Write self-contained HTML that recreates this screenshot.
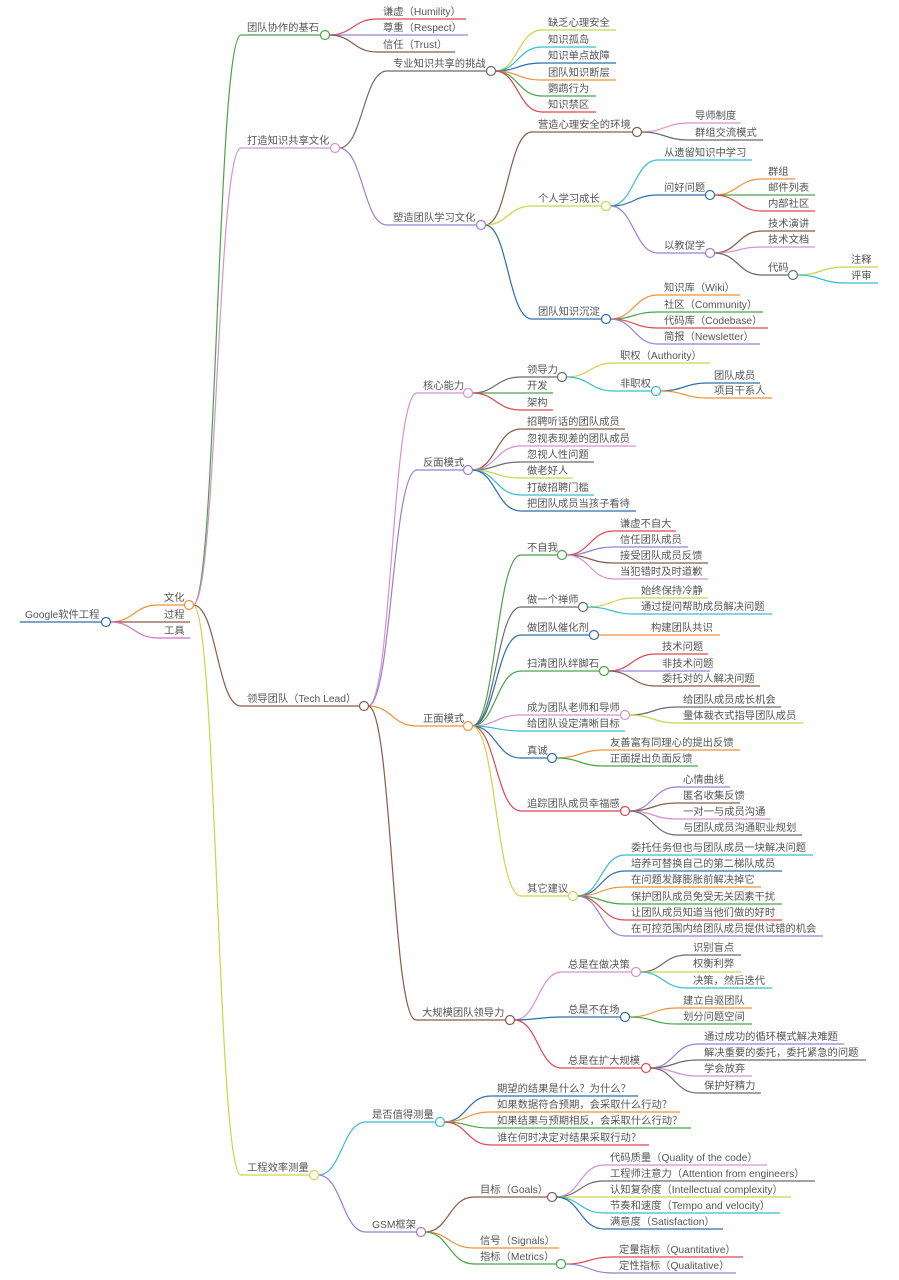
<!DOCTYPE html>
<html><head><meta charset="utf-8"><style>
html,body{margin:0;padding:0;background:#fff}
svg{display:block}
text{font-family:"Liberation Sans","Noto Sans CJK SC",sans-serif;font-size:10.3px;fill:#555}
path{fill:none;stroke-width:1.2}
circle{fill:#fff;stroke-width:1.2}
</style></head><body>
<svg width="899" height="1280" viewBox="0 0 899 1280" xmlns="http://www.w3.org/2000/svg">
<g>
<path d="M20 622H102" stroke="#2f6fa8" stroke-width="3"/>
<text x="25" y="618">Google软件工程</text>
<path d="M110 622C134 622 134 605 158 605H185" stroke="#f0923a"/><text x="164" y="601">文化</text>
<path d="M110 622H190" stroke="#8a5a4a"/><text x="164" y="618">过程</text>
<path d="M110 622C134 622 134 638 158 638H190" stroke="#d070c8"/><text x="164" y="634">工具</text>

<path d="M193 605C217 605 217 35 241 35H321" stroke="#4aa34a"/><text x="247" y="31">团队协作的基石</text>
<path d="M193 605C217 605 217 148 241 148H331" stroke="#d98fd0"/><text x="247" y="144">打造知识共享文化</text>
<path d="M193 605C217 605 217 706 241 706H360" stroke="#8a5a4a"/><text x="247" y="702">领导团队（Tech Lead）</text>
<path d="M193 605C217 605 217 1175 241 1175H310" stroke="#cfd24a"/><text x="247" y="1171">工程效率测量</text>

<path d="M329 35C353 35 353 19 377 19H466" stroke="#e0464e"/><text x="383" y="15">谦虚（Humility）</text>
<path d="M329 35H468" stroke="#9a7fd1"/><text x="383" y="31">尊重（Respect）</text>
<path d="M329 35C353 35 353 52 377 52H455" stroke="#8a5a4a"/><text x="383" y="48">信任（Trust）</text>

<path d="M339 148C363 148 363 71 387 71H487" stroke="#6b6b6b"/><text x="393" y="67">专业知识共享的挑战</text>
<path d="M339 148C363 148 363 225 387 225H477" stroke="#9a7fd1"/><text x="393" y="221">塑造团队学习文化</text>

<path d="M495 71C518 71 518 30 542 30H616" stroke="#cfd24a"/><text x="548" y="26">缺乏心理安全</text>
<path d="M495 71C518 71 518 47 542 47H596" stroke="#3bbcd0"/><text x="548" y="43">知识孤岛</text>
<path d="M495 71C518 71 518 63 542 63H616" stroke="#2f6fa8"/><text x="548" y="59">知识单点故障</text>
<path d="M495 71C518 71 518 80 542 80H616" stroke="#f0923a"/><text x="548" y="76">团队知识断层</text>
<path d="M495 71C518 71 518 96 542 96H596" stroke="#4aa34a"/><text x="548" y="92">鹦鹉行为</text>
<path d="M495 71C518 71 518 112 542 112H596" stroke="#e0464e"/><text x="548" y="108">知识禁区</text>

<path d="M485 225C508 225 508 132 532 132H633" stroke="#8a5a4a"/><text x="538" y="128">营造心理安全的环境</text>
<path d="M485 225C508 225 508 206 532 206H602" stroke="#cfd24a"/><text x="538" y="202">个人学习成长</text>
<path d="M485 225C508 225 508 319 532 319H602" stroke="#2f6fa8"/><text x="538" y="315">团队知识沉淀</text>

<path d="M641 132C665 132 665 123 689 123H741" stroke="#d98fd0"/><text x="695" y="119">导师制度</text>
<path d="M641 132C665 132 665 140 689 140H763" stroke="#6b6b6b"/><text x="695" y="136">群组交流模式</text>

<path d="M610 206C634 206 634 160 658 160H752" stroke="#3bbcd0"/><text x="664" y="156">从遗留知识中学习</text>
<path d="M610 206C634 206 634 195 658 195H706" stroke="#2f6fa8"/><text x="664" y="191">问好问题</text>
<path d="M610 206C634 206 634 253 658 253H706" stroke="#9a7fd1"/><text x="664" y="249">以教促学</text>

<path d="M714 195C738 195 738 179 762 179H795" stroke="#f0923a"/><text x="768" y="175">群组</text>
<path d="M714 195H815" stroke="#4aa34a"/><text x="768" y="191">邮件列表</text>
<path d="M714 195C738 195 738 211 762 211H815" stroke="#e0464e"/><text x="768" y="207">内部社区</text>

<path d="M714 253C738 253 738 231 762 231H815" stroke="#8a5a4a"/><text x="768" y="227">技术演讲</text>
<path d="M714 253C738 253 738 247 762 247H815" stroke="#d98fd0"/><text x="768" y="243">技术文档</text>
<path d="M714 253C738 253 738 275 762 275H789" stroke="#6b6b6b"/><text x="768" y="271">代码</text>

<path d="M797 275C821 275 821 267 845 267H878" stroke="#cfd24a"/><text x="851" y="263">注释</text>
<path d="M797 275C821 275 821 283 845 283H878" stroke="#3bbcd0"/><text x="851" y="279">评审</text>

<path d="M610 319C634 319 634 295 658 295H740" stroke="#f0923a"/><text x="664" y="291">知识库（Wiki）</text>
<path d="M610 319C634 319 634 312 658 312H763" stroke="#4aa34a"/><text x="664" y="308">社区（Community）</text>
<path d="M610 319C634 319 634 328 658 328H768" stroke="#e0464e"/><text x="664" y="324">代码库（Codebase）</text>
<path d="M610 319C634 319 634 344 658 344H760" stroke="#9a7fd1"/><text x="664" y="340">简报（Newsletter）</text>

<path d="M368 706C392 706 392 393 417 393H464" stroke="#d98fd0"/><text x="423" y="389">核心能力</text>
<path d="M368 706C392 706 392 470 417 470H464" stroke="#9a7fd1"/><text x="423" y="466">反面模式</text>
<path d="M368 706C392 706 392 726 417 726H464" stroke="#f0923a"/><text x="423" y="722">正面模式</text>
<path d="M368 706C392 706 392 1020 416 1020H506" stroke="#8a5a4a"/><text x="422" y="1016">大规模团队领导力</text>

<path d="M472 393C496 393 496 377 521 377H558" stroke="#6b6b6b"/><text x="527" y="373">领导力</text>
<path d="M472 393H553" stroke="#4aa34a"/><text x="527" y="389">开发</text>
<path d="M472 393C496 393 496 410 521 410H553" stroke="#e0464e"/><text x="527" y="406">架构</text>

<path d="M566 377C590 377 590 363 614 363H710" stroke="#cfd24a"/><text x="620" y="359">职权（Authority）</text>
<path d="M566 377C590 377 590 391 614 391H652" stroke="#3bbcd0"/><text x="620" y="387">非职权</text>
<path d="M660 391C684 391 684 383 708 383H760" stroke="#2f6fa8"/><text x="714" y="379">团队成员</text>
<path d="M660 391C684 391 684 398 708 398H772" stroke="#f0923a"/><text x="714" y="394">项目干系人</text>

<path d="M472 470C496 470 496 429 521 429H625" stroke="#8a5a4a"/><text x="527" y="425">招聘听话的团队成员</text>
<path d="M472 470C496 470 496 446 521 446H636" stroke="#d98fd0"/><text x="527" y="442">忽视表现差的团队成员</text>
<path d="M472 470C496 470 496 462 521 462H594" stroke="#6b6b6b"/><text x="527" y="458">忽视人性问题</text>
<path d="M472 470C496 470 496 478 521 478H573" stroke="#cfd24a"/><text x="527" y="474">做老好人</text>
<path d="M472 470C496 470 496 495 521 495H594" stroke="#3bbcd0"/><text x="527" y="491">打破招聘门槛</text>
<path d="M472 470C496 470 496 511 521 511H636" stroke="#2f6fa8"/><text x="527" y="507">把团队成员当孩子看待</text>

<path d="M472 726C496 726 496 555 521 555H558" stroke="#4aa34a"/><text x="527" y="551">不自我</text>
<path d="M472 726C496 726 496 607 521 607H579" stroke="#6b6b6b"/><text x="527" y="603">做一个禅师</text>
<path d="M472 726C496 726 496 635 521 635H590" stroke="#2f6fa8"/><text x="527" y="631">做团队催化剂</text>
<path d="M472 726C496 726 496 671 521 671H600" stroke="#4aa34a"/><text x="527" y="667">扫清团队绊脚石</text>
<path d="M472 726C496 726 496 715 521 715H621" stroke="#d98fd0"/><text x="527" y="711">成为团队老师和导师</text>
<path d="M472 726C496 726 496 731 521 731H625" stroke="#3bbcd0"/><text x="527" y="727">给团队设定清晰目标</text>
<path d="M472 726C496 726 496 758 521 758H548" stroke="#2f6fa8"/><text x="527" y="754">真诚</text>
<path d="M472 726C496 726 496 811 521 811H621" stroke="#e0464e"/><text x="527" y="807">追踪团队成员幸福感</text>
<path d="M472 726C496 726 496 896 521 896H569" stroke="#cfd24a"/><text x="527" y="892">其它建议</text>

<path d="M566 555C590 555 590 531 614 531H676" stroke="#e0464e"/><text x="620" y="527">谦虚不自大</text>
<path d="M566 555C590 555 590 547 614 547H688" stroke="#9a7fd1"/><text x="620" y="543">信任团队成员</text>
<path d="M566 555C590 555 590 563 614 563H708" stroke="#8a5a4a"/><text x="620" y="559">接受团队成员反馈</text>
<path d="M566 555C590 555 590 579 614 579H708" stroke="#d98fd0"/><text x="620" y="575">当犯错时及时道歉</text>

<path d="M587 607C611 607 611 598 635 598H708" stroke="#cfd24a"/><text x="641" y="594">始终保持冷静</text>
<path d="M587 607C611 607 611 614 635 614H772" stroke="#3bbcd0"/><text x="641" y="610">通过提问帮助成员解决问题</text>
<path d="M598 635H720" stroke="#f0923a"/><text x="651" y="631">构建团队共识</text>

<path d="M608 671C632 671 632 654 656 654H708" stroke="#e0464e"/><text x="662" y="650">技术问题</text>
<path d="M608 671H710" stroke="#9a7fd1"/><text x="662" y="667">非技术问题</text>
<path d="M608 671C632 671 632 686 656 686H760" stroke="#8a5a4a"/><text x="662" y="682">委托对的人解决问题</text>

<path d="M629 715C653 715 653 707 677 707H781" stroke="#6b6b6b"/><text x="683" y="703">给团队成员成长机会</text>
<path d="M629 715C653 715 653 723 677 723H803" stroke="#cfd24a"/><text x="683" y="719">量体裁衣式指导团队成员</text>

<path d="M556 758C580 758 580 750 604 750H740" stroke="#f0923a"/><text x="610" y="746">友善富有同理心的提出反馈</text>
<path d="M556 758C580 758 580 766 604 766H698" stroke="#4aa34a"/><text x="610" y="762">正面提出负面反馈</text>

<path d="M629 811C653 811 653 787 677 787H730" stroke="#9a7fd1"/><text x="683" y="783">心情曲线</text>
<path d="M629 811C653 811 653 803 677 803H740" stroke="#8a5a4a"/><text x="683" y="799">匿名收集反馈</text>
<path d="M629 811C653 811 653 819 677 819H771" stroke="#d98fd0"/><text x="683" y="815">一对一与成员沟通</text>
<path d="M629 811C653 811 653 835 677 835H802" stroke="#6b6b6b"/><text x="683" y="831">与团队成员沟通职业规划</text>

<path d="M577 896C601 896 601 855 625 855H813" stroke="#3bbcd0"/><text x="631" y="851">委托任务但也与团队成员一块解决问题</text>
<path d="M577 896C601 896 601 871 625 871H782" stroke="#2f6fa8"/><text x="631" y="867">培养可替换自己的第二梯队成员</text>
<path d="M577 896C601 896 601 887 625 887H761" stroke="#f0923a"/><text x="631" y="883">在问题发酵膨胀前解决掉它</text>
<path d="M577 896C601 896 601 904 625 904H782" stroke="#4aa34a"/><text x="631" y="900">保护团队成员免受无关因素干扰</text>
<path d="M577 896C601 896 601 920 625 920H782" stroke="#e0464e"/><text x="631" y="916">让团队成员知道当他们做的好时</text>
<path d="M577 896C601 896 601 936 625 936H823" stroke="#9a7fd1"/><text x="631" y="932">在可控范围内给团队成员提供试错的机会</text>

<path d="M514 1020C538 1020 538 972 562 972H632" stroke="#d98fd0"/><text x="568" y="968">总是在做决策</text>
<path d="M514 1020C538 1020 538 1017 562 1017H621" stroke="#2f6fa8"/><text x="568" y="1013">总是不在场</text>
<path d="M514 1020C538 1020 538 1068 562 1068H642" stroke="#e0464e"/><text x="568" y="1064">总是在扩大规模</text>

<path d="M640 972C663 972 663 955 687 955H741" stroke="#6b6b6b"/><text x="693" y="951">识别盲点</text>
<path d="M640 972H741" stroke="#cfd24a"/><text x="693" y="967">权衡利弊</text>
<path d="M640 972C663 972 663 988 687 988H772" stroke="#3bbcd0"/><text x="693" y="984">决策，然后迭代</text>

<path d="M629 1017C653 1017 653 1008 677 1008H752" stroke="#f0923a"/><text x="683" y="1004">建立自驱团队</text>
<path d="M629 1017C653 1017 653 1024 677 1024H752" stroke="#4aa34a"/><text x="683" y="1020">划分问题空间</text>

<path d="M650 1068C674 1068 674 1044 698 1044H844" stroke="#9a7fd1"/><text x="704" y="1040">通过成功的循环模式解决难题</text>
<path d="M650 1068C674 1068 674 1060 698 1060H866" stroke="#6b6b6b"/><text x="704" y="1056">解决重要的委托，委托紧急的问题</text>
<path d="M650 1068C674 1068 674 1076 698 1076H752" stroke="#d98fd0"/><text x="704" y="1072">学会放弃</text>
<path d="M650 1068C674 1068 674 1093 698 1093H761" stroke="#6b6b6b"/><text x="704" y="1089">保护好精力</text>

<path d="M318 1175C342 1175 342 1122 366 1122H436" stroke="#3bbcd0"/><text x="372" y="1118">是否值得测量</text>
<path d="M318 1175C342 1175 342 1232 366 1232H417" stroke="#9a7fd1"/><text x="372" y="1228">GSM框架</text>

<path d="M444 1122C467 1122 467 1096 491 1096H638" stroke="#2f6fa8"/><text x="497" y="1092">期望的结果是什么？为什么？</text>
<path d="M444 1122C467 1122 467 1112 491 1112H680" stroke="#f0923a"/><text x="497" y="1108">如果数据符合预期，会采取什么行动？</text>
<path d="M444 1122C467 1122 467 1128 491 1128H691" stroke="#4aa34a"/><text x="497" y="1124">如果结果与预期相反，会采取什么行动？</text>
<path d="M444 1122C467 1122 467 1145 491 1145H649" stroke="#e0464e"/><text x="497" y="1141">谁在何时决定对结果采取行动？</text>

<path d="M425 1232C449 1232 449 1197 474 1197H548" stroke="#8a5a4a"/><text x="480" y="1193">目标（Goals）</text>
<path d="M425 1232C449 1232 449 1248 474 1248H559" stroke="#f0923a"/><text x="480" y="1244">信号（Signals）</text>
<path d="M425 1232C449 1232 449 1264 474 1264H557" stroke="#4aa34a"/><text x="480" y="1260">指标（Metrics）</text>

<path d="M556 1197C580 1197 580 1165 604 1165H767" stroke="#d98fd0"/><text x="610" y="1161">代码质量（Quality of the code）</text>
<path d="M556 1197C580 1197 580 1181 604 1181H815" stroke="#6b6b6b"/><text x="610" y="1177">工程师注意力（Attention from engineers）</text>
<path d="M556 1197H791" stroke="#cfd24a"/><text x="610" y="1193">认知复杂度（Intellectual complexity）</text>
<path d="M556 1197C580 1197 580 1213 604 1213H780" stroke="#3bbcd0"/><text x="610" y="1209">节奏和速度（Tempo and velocity）</text>
<path d="M556 1197C580 1197 580 1229 604 1229H723" stroke="#2f6fa8"/><text x="610" y="1225">满意度（Satisfaction）</text>

<path d="M565 1264C589 1264 589 1257 613 1257H743" stroke="#e0464e"/><text x="619" y="1253">定量指标（Quantitative）</text>
<path d="M565 1264C589 1264 589 1273 613 1273H736" stroke="#9a7fd1"/><text x="619" y="1269">定性指标（Qualitative）</text>
</g>

<g>
<circle cx="106" cy="622" r="4.5" stroke="#2f6fa8"/>
<circle cx="189" cy="605" r="4.5" stroke="#f0923a"/>
<circle cx="325" cy="35" r="4.5" stroke="#4aa34a"/>
<circle cx="335" cy="148" r="4.5" stroke="#d98fd0"/>
<circle cx="364" cy="706" r="4.5" stroke="#8a5a4a"/>
<circle cx="314" cy="1175" r="4.5" stroke="#cfd24a"/>
<circle cx="491" cy="71" r="4.5" stroke="#6b6b6b"/>
<circle cx="481" cy="225" r="4.5" stroke="#9a7fd1"/>
<circle cx="637" cy="132" r="4.5" stroke="#8a5a4a"/>
<circle cx="606" cy="206" r="4.5" stroke="#cfd24a"/>
<circle cx="606" cy="319" r="4.5" stroke="#2f6fa8"/>
<circle cx="710" cy="195" r="4.5" stroke="#2f6fa8"/>
<circle cx="710" cy="253" r="4.5" stroke="#9a7fd1"/>
<circle cx="793" cy="275" r="4.5" stroke="#6b6b6b"/>
<circle cx="468" cy="393" r="4.5" stroke="#d98fd0"/>
<circle cx="468" cy="470" r="4.5" stroke="#9a7fd1"/>
<circle cx="468" cy="726" r="4.5" stroke="#f0923a"/>
<circle cx="510" cy="1020" r="4.5" stroke="#8a5a4a"/>
<circle cx="562" cy="377" r="4.5" stroke="#6b6b6b"/>
<circle cx="656" cy="391" r="4.5" stroke="#3bbcd0"/>
<circle cx="562" cy="555" r="4.5" stroke="#4aa34a"/>
<circle cx="583" cy="607" r="4.5" stroke="#6b6b6b"/>
<circle cx="594" cy="635" r="4.5" stroke="#2f6fa8"/>
<circle cx="604" cy="671" r="4.5" stroke="#4aa34a"/>
<circle cx="625" cy="715" r="4.5" stroke="#d98fd0"/>
<circle cx="552" cy="758" r="4.5" stroke="#2f6fa8"/>
<circle cx="625" cy="811" r="4.5" stroke="#e0464e"/>
<circle cx="573" cy="896" r="4.5" stroke="#cfd24a"/>
<circle cx="636" cy="972" r="4.5" stroke="#d98fd0"/>
<circle cx="625" cy="1017" r="4.5" stroke="#2f6fa8"/>
<circle cx="646" cy="1068" r="4.5" stroke="#e0464e"/>
<circle cx="440" cy="1122" r="4.5" stroke="#3bbcd0"/>
<circle cx="421" cy="1232" r="4.5" stroke="#9a7fd1"/>
<circle cx="552" cy="1197" r="4.5" stroke="#8a5a4a"/>
<circle cx="561" cy="1264" r="4.5" stroke="#4aa34a"/>
</g>
</svg>
</body></html>
